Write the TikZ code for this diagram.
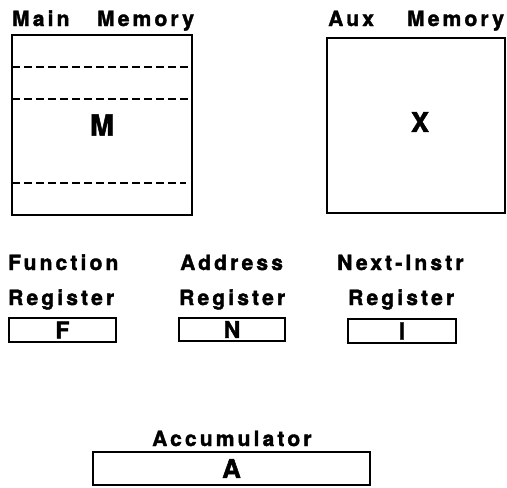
\documentclass[tikz,border=0pt]{standalone}
\usepackage{fontspec}
\newfontfamily\labfont{texgyreheros-bold.otf}[LetterSpace=15,FakeBold=1.8]
\newfontfamily\letfont{texgyreheros-bold.otf}[FakeBold=1.8]
\begin{document}
\begin{tikzpicture}[x=1pt,y=-1pt,
  lab/.style={anchor=base west,inner sep=0pt,font=\labfont\fontsize{21}{21}\selectfont},
  bigbox/.style={draw,line width=2.2pt,inner sep=0pt,font=\letfont\fontsize{29}{29}\selectfont},
  regbox/.style={draw,line width=2.2pt,inner sep=0pt,font=\letfont\fontsize{23}{23}\selectfont},
  sep/.style={line width=2pt,dash pattern=on 7.5pt off 4.5pt}]
\useasboundingbox (0,0) rectangle (507,488);
% titles
\node[lab] (tmain) at (12,26) {Main};
\node[lab] (tmainb) at (97,26) {Memory};
\node[lab] (taux) at (328,26) {Aux};
\node[lab] (tauxb) at (407,26) {Memory};
% memories
\node[bigbox,minimum width=180pt,minimum height=180pt] (mainmem) at (102,125) {M};
\node[bigbox,minimum width=178pt,minimum height=175pt] (auxmem) at (416,125.5) {};
\node[font=\letfont\fontsize{27}{27}\selectfont,inner sep=0pt] (xlab) at (420,122) {X};
\coordinate (d1) at (12,67);
\coordinate (d2) at (12,99);
\coordinate (d3) at (12,183);
\coordinate (d3e) at (186,183);
\draw[sep] (d1) -- (d1 -| mainmem.east);
\draw[sep] (d2) -- (d2 -| mainmem.east);
\draw[sep] (d3) -- (d3e);
% register labels
\node[lab] (tfun) at (8,270) {Function};
\node[lab] (tfreg) at (8,305) {Register};
\node[lab] (tadd) at (180,270) {Address};
\node[lab] (tnreg) at (179,305) {Register};
\node[lab] (tnext) at (337,270) {Next-Instr};
\node[lab] (tireg) at (348,305) {Register};
% registers
\node[regbox,minimum width=107pt,minimum height=24pt] (F) at (62.5,330) {F};
\node[regbox,minimum width=106pt,minimum height=23pt] (N) at (232,329.5) {N};
\node[regbox,minimum width=108pt,minimum height=24pt] (I) at (402,331) {I};
% accumulator
\node[lab] (tacc) at (152,446) {Accumulator};
\node[bigbox,font=\letfont\fontsize{26}{26}\selectfont,minimum width=277pt,minimum height=33pt] (A) at (231.5,468.5) {A};
\end{tikzpicture}
\end{document}
